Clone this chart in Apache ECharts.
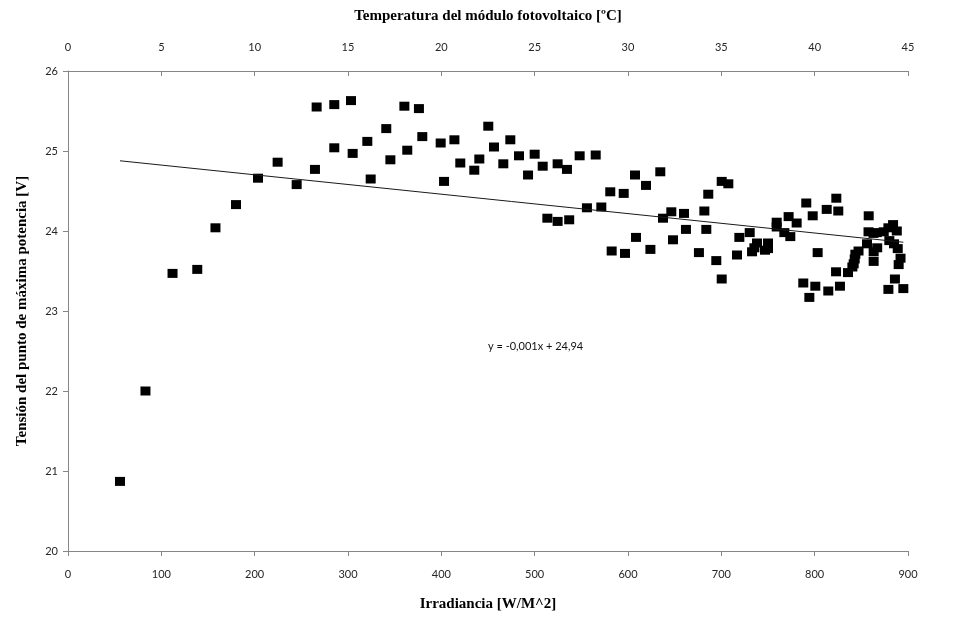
<!DOCTYPE html>
<html>
<head>
<meta charset="utf-8">
<script src="https://cdn.jsdelivr.net/npm/echarts@6/dist/echarts.min.js"></script>
<style>
  html, body { margin: 0; padding: 0; background: #ffffff; }
  #chart { width: 957px; height: 617px; }
</style>
</head>
<body>
<div id="chart"></div>
<script>
// Irradiance (W/m^2) and MPP voltage (V) measurements
const irradiance = [
  55.7, 83, 112, 138.5, 158, 180, 203.6, 224.6, 245, 264.6,
  266.4, 285.3, 303.2, 285.3, 305, 320.7, 324.3, 341, 345.4, 360.4,
  376, 363.5, 379.6, 399.3, 402.9, 414, 420.3, 435.3, 440.7, 450.3,
  456.4, 466.4, 473.9, 483.2, 492.9, 500, 508.6, 524.6, 534.6, 513.6,
  524.6, 537, 548.2, 565.4, 556, 571.4, 581, 595.4, 607.5, 619.3,
  634.6, 582.5, 596.8, 608.6, 624, 637.5, 646.4, 660, 648.2, 662.1,
  681.8, 686, 700.4, 707.5, 683.9, 676, 694.6, 700.4, 719.3, 716.8,
  730.4, 738.2, 735.4, 732.9, 750, 750, 746.8, 759.3, 759.3, 767.5,
  773.9, 772.1, 780.7, 791, 797.9, 812.9, 823.2, 825.3, 803.2, 822.9,
  787.8, 800.7, 794.3, 814.6, 827.1, 857.9, 857.7, 863, 866.6, 856.1,
  867, 863.2, 863.2, 847, 843.6, 842.9, 841.8, 840.4, 835.7,
  874, 879, 884, 888, 880, 885, 889, 892, 890, 886, 879, 895
];
const voltage = [
  20.87, 22.00, 23.47, 23.52, 24.04, 24.33, 24.66, 24.86, 24.58, 24.77,
  25.55, 25.58, 25.63, 25.04, 24.97, 25.12, 24.65, 25.28, 24.89, 25.56,
  25.53, 25.01, 25.18, 25.10, 24.62, 25.14, 24.85, 24.76, 24.90, 25.31,
  25.05, 24.84, 25.14, 24.94, 24.70, 24.96, 24.81, 24.84, 24.77, 24.16,
  24.12, 24.14, 24.94, 24.95, 24.29, 24.30, 24.49, 24.47, 24.70, 24.57,
  24.74, 23.75, 23.72, 23.92, 23.77, 24.16, 24.24, 24.22, 23.89, 24.02,
  24.25, 24.46, 24.62, 24.59, 24.02, 23.73, 23.63, 23.40, 23.92, 23.70,
  23.98, 23.85, 23.79, 23.74, 23.85, 23.78, 23.76, 24.11, 24.05, 23.98,
  23.93, 24.18, 24.10, 24.35, 24.19, 24.27, 24.41, 24.25, 23.73, 23.49,
  23.35, 23.31, 23.17, 23.25, 23.31, 24.19, 23.99, 23.97, 23.98, 23.84,
  23.79, 23.74, 23.62, 23.75, 23.71, 23.65, 23.59, 23.55, 23.48,
  23.99, 24.04, 24.08, 24.00, 23.88, 23.84, 23.78, 23.66, 23.58, 23.40, 23.27, 23.28
];

// Axis ranges
const irradianceAxis = { min: 0, max: 900, interval: 100 };
const temperatureAxis = { min: 0, max: 45, interval: 5 };
const voltageAxis = { min: 20, max: 26, interval: 1 };

const trendLabel = 'y = -0,001x + 24,94';

// Least-squares linear trend over the measured points
function linearFit(xs, ys) {
  const n = xs.length;
  let sx = 0, sy = 0, sxx = 0, sxy = 0;
  for (let i = 0; i < n; i++) {
    sx += xs[i]; sy += ys[i];
    sxx += xs[i] * xs[i]; sxy += xs[i] * ys[i];
  }
  const slope = (n * sxy - sx * sy) / (n * sxx - sx * sx);
  const intercept = (sy - slope * sx) / n;
  return { slope, intercept };
}

const fit = linearFit(irradiance, voltage);
const xMin = Math.min(...irradiance);
const xMax = Math.max(...irradiance);
const trendData = [xMin, xMax].map(x => [x, fit.intercept + fit.slope * x]);
const points = irradiance.map((x, i) => [x, voltage[i]]);

const axisColor = '#868686';
const labelFont = { fontFamily: 'Lato, "Open Sans", sans-serif', fontSize: 11, color: '#262626' };
const titleFont = { fontFamily: '"Liberation Serif", "DejaVu Serif", serif', fontSize: 15, fontWeight: 'bold', color: '#000000' };

const chart = echarts.init(document.getElementById('chart'), null, { renderer: 'canvas' });

chart.setOption({
  backgroundColor: '#ffffff',
  animation: false,
  grid: { left: 68, right: 49, top: 71, bottom: 60, containLabel: false },
  xAxis: [
    {
      type: 'value',
      position: 'bottom',
      min: irradianceAxis.min, max: irradianceAxis.max, interval: irradianceAxis.interval,
      name: 'Irradiancia [W/M^2]',
      nameLocation: 'middle',
      nameGap: 46,
      nameTextStyle: titleFont,
      axisLine: { show: true, lineStyle: { color: axisColor, width: 1 } },
      axisTick: { show: true, length: 5, lineStyle: { color: axisColor } },
      axisLabel: Object.assign({ margin: 18 }, labelFont),
      splitLine: { show: false }
    },
    {
      type: 'value',
      position: 'top',
      min: temperatureAxis.min, max: temperatureAxis.max, interval: temperatureAxis.interval,
      name: 'Temperatura del módulo fotovoltaico [ºC]',
      nameLocation: 'middle',
      nameGap: 47,
      nameTextStyle: titleFont,
      axisLine: { show: true, lineStyle: { color: axisColor, width: 1 } },
      axisTick: { show: true, inside: true, length: 5, lineStyle: { color: axisColor } },
      axisLabel: Object.assign({ margin: 18 }, labelFont),
      splitLine: { show: false }
    }
  ],
  yAxis: {
    type: 'value',
    min: voltageAxis.min, max: voltageAxis.max, interval: voltageAxis.interval,
    name: 'Tensión del punto de máxima potencia [V]',
    nameLocation: 'middle',
    nameGap: 38,
    nameTextStyle: titleFont,
    axisLine: { show: true, lineStyle: { color: axisColor, width: 1 } },
    axisTick: { show: true, length: 5, lineStyle: { color: axisColor } },
    axisLabel: Object.assign({ margin: 10 }, labelFont),
    splitLine: { show: false }
  },
  series: [
    {
      name: 'Tensión',
      type: 'scatter',
      xAxisIndex: 0,
      symbol: 'rect',
      symbolSize: [10, 9],
      itemStyle: { color: '#000000', opacity: 1 },
      data: points,
      z: 3
    },
    {
      name: 'Tendencia',
      type: 'line',
      xAxisIndex: 0,
      data: trendData,
      showSymbol: false,
      symbol: 'none',
      lineStyle: { color: '#1a1a1a', width: 1 },
      z: 4,
      markPoint: {
        symbol: 'circle',
        symbolSize: 0,
        data: [{ coord: [501, 22.56] }],
        label: {
          show: true,
          formatter: trendLabel,
          position: 'inside',
          fontFamily: labelFont.fontFamily,
          fontSize: 11,
          color: '#111111'
        }
      }
    }
  ]
});
</script>
</body>
</html>
